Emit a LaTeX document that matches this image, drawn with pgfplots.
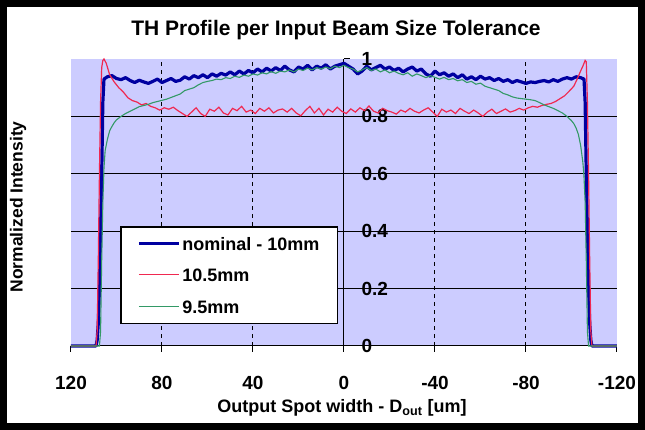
\documentclass[border=0pt]{standalone}
\usepackage{pgfplots}
\pgfplotsset{compat=1.18}
\usepackage{fontspec}
\setmainfont{Liberation Sans}
\definecolor{lav}{HTML}{CCCCFF}
\definecolor{nomblue}{HTML}{0000A0}
\definecolor{redl}{HTML}{F02850}
\definecolor{greenl}{HTML}{339966}
\newcommand\tickfont{\fontsize{19}{19}\selectfont\bfseries}
\begin{document}
\begin{tikzpicture}
% frame (1pt = 1 px of the reference; axis lower-left at px (71,346))
\fill[white] (-71pt,-84pt) rectangle (574pt,346pt);
\draw[black, line width=7pt] (-67.5pt,-80.5pt) rectangle (570.5pt,342.5pt);
\begin{axis}[
  at={(0pt,0pt)}, anchor=south west,
  scale only axis, width=546pt, height=287pt,
  x dir=reverse,
  xmin=-120, xmax=120, ymin=0, ymax=1,
  axis x line=bottom, axis y line=center,
  hide obscured y ticks=false,
  axis line style={-, black, line width=1pt},
  axis background/.style={fill=lav},
  xtick={-80,-40,0,40,80},
  xticklabels={-80,-40,0,40,80},
  extra x ticks={-120,120},
  extra x tick labels={-120,120},
  extra x tick style={grid=none},
  xmajorgrids,
  major x grid style={black, line width=1pt, dash pattern=on 4pt off 4pt},
  ytick={0,0.2,0.4,0.6,0.8},
  yticklabels={0,0.2,0.4,0.6,0.8},
  extra y ticks={1},
  extra y tick labels={1},
  extra y tick style={grid=none},
  ymajorgrids,
  major y grid style={black, line width=1pt},
  xtick align=outside,
  ytick align=outside,
  major tick length=6pt,
  tick style={black, line width=1pt},
  ticklabel style={font=\tickfont},
  xticklabel style={yshift=-21pt},
  yticklabel style={anchor=west, xshift=20pt},
  legend style={at={(0.0916,0.4146)}, anchor=north west, draw=none, name=leg,
    fill=white, font=\fontsize{18}{18}\selectfont\bfseries,
    inner xsep=16pt, inner ysep=8pt, row sep=14.5pt,
    nodes={inner sep=2pt, text height=13pt, text depth=0pt}},
  legend cell align=left,
  legend image code/.code={\draw[#1] (0pt,0.5pt) -- (40pt,0.5pt);},
  clip=false,
]
\addplot[nomblue, line width=3.2pt, line join=round] coordinates {
(120,0)(109,0)(108.5,0.02)(108,0.08)(107.5,0.2)(107,0.4)(106.5,0.6)(106,0.85)(105.5,0.93)
(104,0.938)(102,0.942)(100,0.932)(98,0.928)(96,0.935)(94,0.925)(92,0.918)(90,0.926)
(88,0.92)(86,0.915)(84,0.922)(82,0.93)(80,0.918)(78,0.925)(76,0.932)(74,0.922)
(72,0.926)(70,0.938)(68,0.93)(66,0.942)(64,0.935)(62,0.945)(60,0.935)(58,0.948)
(56,0.94)(54,0.95)(52,0.944)(50,0.955)(48,0.945)(46,0.958)(44,0.948)(42,0.96)
(40,0.952)(38,0.965)(36,0.955)(34,0.968)(32,0.958)(30,0.97)(28,0.96)(26,0.975)
(24,0.962)(22,0.955)(20,0.972)(18,0.965)(16,0.978)(14,0.962)(12,0.975)(10,0.968)
(8,0.98)(6,0.965)(4,0.975)(2,0.98)(0,0.985)
(-2,0.975)(-4,0.965)(-6,0.948)(-8,0.958)(-10,0.975)(-12,0.962)(-14,0.97)(-16,0.978)
(-18,0.965)(-20,0.972)(-22,0.96)(-24,0.968)(-26,0.955)(-28,0.965)(-30,0.972)(-32,0.958)
(-34,0.965)(-36,0.948)(-38,0.94)(-40,0.958)(-42,0.945)(-44,0.952)(-46,0.94)(-48,0.948)
(-50,0.935)(-52,0.945)(-54,0.93)(-56,0.938)(-58,0.928)(-60,0.94)(-62,0.93)(-64,0.935)
(-66,0.925)(-68,0.932)(-70,0.922)(-72,0.928)(-74,0.918)(-76,0.925)(-78,0.92)(-80,0.915)
(-82,0.92)(-84,0.918)(-86,0.922)(-88,0.925)(-90,0.92)(-92,0.928)(-94,0.922)(-96,0.93)
(-98,0.935)(-100,0.93)(-102,0.938)(-104,0.935)
(-105.5,0.93)(-106,0.85)(-106.5,0.6)(-107,0.4)(-107.5,0.2)(-108,0.08)(-108.5,0.02)(-109,0)(-120,0)
};
\addlegendentry{nominal - 10mm}
\addplot[redl, line width=1.2pt] coordinates {
(120,0)(109,0)(108.5,0.05)(108,0.3)(107.5,0.6)(107,0.85)(106.5,0.97)(106,0.995)(105.5,1.0)
(104.5,0.985)(103,0.945)(101,0.92)(99,0.9)(97,0.885)(95,0.865)(93,0.855)(91,0.85)
(89,0.84)(87,0.845)(85,0.835)(83,0.83)(81,0.822)(79,0.83)(77,0.825)(75,0.832)
(73,0.82)(71,0.81)(69,0.80)
(67,0.815)(65,0.83)(63,0.81)(61,0.80)(59,0.825)(57,0.818)(55,0.832)(53,0.812)
(51,0.805)(49,0.828)(47,0.82)(45,0.835)(43,0.815)(41,0.822)(39,0.81)(37,0.828)
(35,0.818)(33,0.83)(31,0.812)(29,0.822)(27,0.826)(25,0.815)(23,0.828)(21,0.812)
(19,0.802)(17,0.82)(15,0.835)(13,0.812)(11,0.828)(9,0.805)(7,0.825)(5,0.815)
(3,0.832)(1,0.818)(-1,0.81)(-3,0.826)(-5,0.815)(-7,0.83)(-9,0.82)(-11,0.836)
(-13,0.818)(-15,0.812)(-17,0.828)(-19,0.82)(-21,0.815)(-23,0.808)(-25,0.822)(-27,0.815)
(-29,0.828)(-31,0.818)(-33,0.812)(-35,0.822)(-37,0.83)(-39,0.815)(-41,0.8)(-43,0.825)
(-45,0.815)(-47,0.822)(-49,0.81)(-51,0.828)(-53,0.818)(-55,0.81)(-57,0.822)(-59,0.812)
(-61,0.80)(-63,0.815)(-65,0.825)(-67,0.81)(-69,0.818)(-71,0.826)(-73,0.815)(-75,0.82)
(-77,0.828)(-79,0.822)(-81,0.83)(-83,0.835)(-85,0.832)(-87,0.838)(-89,0.842)(-91,0.845)
(-93,0.852)(-95,0.862)(-97,0.872)(-99,0.888)(-101,0.905)(-102.5,0.93)(-104,0.958)
(-105,0.975)(-106,0.995)(-106.5,0.99)(-107,0.85)(-107.5,0.6)(-108,0.3)(-108.5,0.05)(-109,0)(-120,0)
};
\addlegendentry{10.5mm}
\addplot[greenl, line width=1.1pt] coordinates {
(120,0)(107.5,0)(107,0.05)(106.5,0.3)(106,0.5)(105.5,0.62)(105,0.68)(104,0.72)(103,0.75)
(102,0.765)(101,0.778)(100,0.788)(98,0.8)(96,0.81)(94,0.818)(92,0.826)(90,0.834)
(88,0.838)(86,0.842)(84,0.848)(82,0.852)(80,0.856)(78,0.86)(76,0.866)(74,0.872)
(72,0.878)(70,0.89)(68,0.895)(66,0.9)(64,0.91)(62,0.918)(60,0.922)(58,0.925)
(56,0.93)(54,0.928)(52,0.935)(50,0.932)(48,0.94)(46,0.936)(44,0.944)(42,0.94)
(40,0.948)(38,0.944)(36,0.952)(34,0.948)(32,0.956)(30,0.95)(28,0.958)(26,0.955)
(24,0.962)(22,0.955)(20,0.965)(18,0.96)(16,0.968)(14,0.962)(12,0.97)(10,0.965)
(8,0.972)(6,0.966)(4,0.975)(2,0.97)(0,0.978)
(-2,0.97)(-4,0.965)(-6,0.955)(-8,0.962)(-10,0.97)(-12,0.96)(-14,0.965)(-16,0.955)
(-18,0.962)(-20,0.952)(-22,0.958)(-24,0.95)(-26,0.945)(-28,0.952)(-30,0.94)(-32,0.948)
(-34,0.942)(-36,0.935)(-38,0.942)(-40,0.936)(-42,0.93)(-44,0.936)(-46,0.928)(-48,0.932)
(-50,0.924)(-52,0.928)(-54,0.918)(-56,0.922)(-58,0.912)(-60,0.916)(-62,0.905)(-64,0.9)
(-66,0.895)(-68,0.89)(-70,0.88)(-72,0.875)(-74,0.868)(-76,0.864)(-78,0.862)(-80,0.86)
(-82,0.858)(-84,0.855)(-86,0.848)(-88,0.84)(-90,0.834)(-92,0.828)(-94,0.82)(-96,0.812)
(-98,0.8)(-100,0.785)(-101,0.775)(-102,0.76)(-103,0.738)(-104,0.7)(-105,0.64)
(-105.5,0.59)(-106,0.5)(-106.5,0.3)(-107,0.05)(-107.5,0)(-120,0)
};
\addlegendentry{9.5mm}
\end{axis}
\draw[black, line width=1.5pt] (leg.south west) rectangle (leg.north east);
\node[font=\fontsize{21}{21}\selectfont\bfseries] at (265pt,316pt) {TH Profile per Input Beam Size Tolerance};
\node[font=\fontsize{17.5}{17.5}\selectfont\bfseries, rotate=90] at (-53pt,139pt) {Normalized Intensity};
\node[font=\fontsize{18}{18}\selectfont\bfseries] at (271pt,-62pt) {Output Spot width - D\textsubscript{out} [um]};
\pgfresetboundingbox
\useasboundingbox (-71pt,-84pt) rectangle (574pt,346pt);
\end{tikzpicture}
\end{document}
